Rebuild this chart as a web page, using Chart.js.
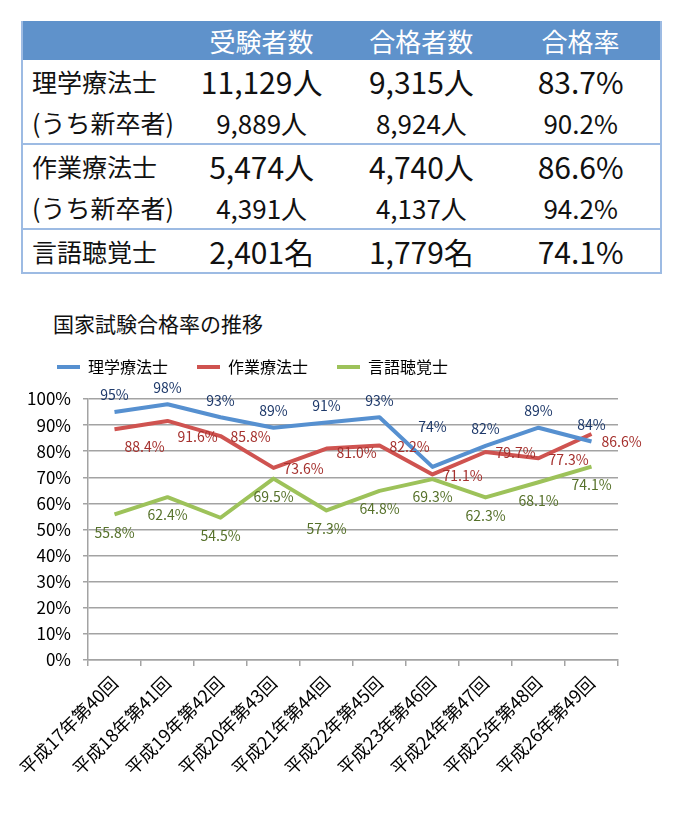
<!DOCTYPE html>
<html lang="ja">
<head>
<meta charset="utf-8">
<script src="https://cdn.jsdelivr.net/npm/chart.js@4.4.1/dist/chart.umd.min.js"></script>
<style>
  body { margin: 0; width: 680px; height: 821px; background: #fff; position: relative; overflow: hidden;
         font-family: "Noto Sans CJK JP", sans-serif; color: #111; }
  #summary { position: absolute; left: 21px; top: 21px; width: 641px; border-collapse: collapse; table-layout: fixed;
             border-left: 2px solid #9dbbe3; border-right: 2px solid #9dbbe3; border-bottom: 2px solid #9dbbe3; }
  #summary th { background: #5f92cb; color: #fff; font-weight: normal; font-size: 26px; height: 39px; padding: 0; line-height: 1; }
  #summary td { padding: 0; text-align: center; line-height: 1; }
  #summary td.name { text-align: left; padding-left: 9px; font-size: 25px; }
  #summary tr.main td { height: 42px; font-size: 30px; }
  #summary tr.sub td { height: 41px; font-size: 26px; }
  #summary tr.main td.name, #summary tr.sub td.name { font-size: 25px; }
  #summary tr.group td { border-top: 2px solid #9dbbe3; }
  #title { position: absolute; left: 53px; top: 309px; font-size: 21px; line-height: 28px; }
  #trend { position: absolute; left: 0; top: 330px; }
</style>
</head>
<body>
<table id="summary"></table>
<div id="title">国家試験合格率の推移</div>
<canvas id="trend" width="680" height="491"></canvas>
<script>
// 合格者数の表
var tableHead = ['', '受験者数', '合格者数', '合格率'];
var rowNames = ['理学療法士', '(うち新卒者)', '作業療法士', '(うち新卒者)', '言語聴覚士'];
var examinees = ['11,129人', '9,889人', '5,474人', '4,391人', '2,401名'];
var passers = ['9,315人', '8,924人', '4,740人', '4,137人', '1,779名'];
var passRates = ['83.7%', '90.2%', '86.6%', '94.2%', '74.1%'];

// 推移グラフ
var rounds = ['平成17年第40回', '平成18年第41回', '平成19年第42回', '平成20年第43回', '平成21年第44回',
              '平成22年第45回', '平成23年第46回', '平成24年第47回', '平成25年第48回', '平成26年第49回'];
var seriesNames = ['理学療法士', '作業療法士', '言語聴覚士'];
var ptRates = [95, 98, 93, 89, 91, 93, 74, 82, 89, 83.7];
var otRates = [88.4, 91.6, 85.8, 73.6, 81.0, 82.2, 71.1, 79.7, 77.3, 86.6];
var stRates = [55.8, 62.4, 54.5, 69.5, 57.3, 64.8, 69.3, 62.3, 68.1, 74.1];

var table = document.getElementById('summary');
var head = '<tr>' + tableHead.map(function (h) { return '<th>' + h + '</th>'; }).join('') + '</tr>';
var body = rowNames.map(function (name, i) {
  var cls = (i % 2 === 0 ? 'main' : 'sub') + (i === 2 || i === 4 ? ' group' : '');
  return '<tr class="' + cls + '"><td class="name">' + name + '</td><td>' + examinees[i] +
         '</td><td>' + passers[i] + '</td><td>' + passRates[i] + '</td></tr>';
}).join('');
table.innerHTML = head + body;

Chart.defaults.font.family = '"Noto Sans CJK JP", sans-serif';
Chart.defaults.color = '#000';

var lineColors = ['#5690d0', '#cf5350', '#9dc25a'];

// data label look per series (Excel style)
var labelStyle = [
  { color: '#1f3a6b', align: 'center', dx: 0, dy: -17, digits: 0, shift: { 6: [0, -23] } },
  { color: '#a5312e', align: 'left', dx: 10, dy: 1, digits: 1, shift: { 0: [0, 16], 1: [0, 15], 4: [0, 3], 9: [0, 7] } },
  { color: '#56712a', align: 'center', dx: 0, dy: 18, digits: 1, shift: {} }
];

var pointLabels = {
  id: 'pointLabels',
  afterDatasetsDraw: function (chart) {
    var ctx = chart.ctx;
    chart.data.datasets.forEach(function (ds, i) {
      var st = labelStyle[i];
      chart.getDatasetMeta(i).data.forEach(function (pt, j) {
        var s = st.shift[j] || [0, 0];
        ctx.save();
        ctx.font = '14px "Noto Sans CJK JP"';
        ctx.fillStyle = st.color;
        ctx.textAlign = st.align;
        ctx.textBaseline = 'middle';
        ctx.fillText(ds.data[j].toFixed(st.digits) + '%', pt.x + st.dx + s[0], pt.y + st.dy + s[1]);
        ctx.restore();
      });
    });
  }
};

var trend = document.getElementById('trend').getContext('2d');
var chart = new Chart(trend, {
  type: 'line',
  data: {
    labels: rounds,
    datasets: [ptRates, otRates, stRates].map(function (vals, i) {
      return {
        label: seriesNames[i],
        data: vals,
        borderColor: lineColors[i],
        backgroundColor: lineColors[i],
        borderWidth: 4,
        borderJoinStyle: 'round',
        pointRadius: 0,
        tension: 0,
        fill: false
      };
    })
  },
  options: {
    responsive: false,
    animation: false,
    devicePixelRatio: 1,
    layout: { padding: { left: 28, right: 62, top: 0, bottom: 0 } },
    plugins: {
      legend: {
        align: 'start',
        labels: {
          boxWidth: 23,
          boxHeight: 4,
          padding: 29,
          font: { size: 16 },
          generateLabels: function (c) {
            return Chart.defaults.plugins.legend.labels.generateLabels(c).map(function (item) {
              item.lineWidth = 0;
              return item;
            });
          }
        }
      },
      // empty spacer between legend and plot
      subtitle: {
        display: true,
        text: ' ',
        weight: 500,
        font: { size: 12, lineHeight: 1 },
        padding: { top: 2, bottom: 0 }
      },
      tooltip: { enabled: false }
    },
    scales: {
      x: {
        offset: true,
        grid: { offset: true, drawOnChartArea: false, tickLength: 6, color: '#a3a3a3', lineWidth: 1.5 },
        border: { color: '#a3a3a3', width: 1.5 },
        ticks: { minRotation: 45, maxRotation: 45, padding: 6, font: { size: 18 } },
        afterFit: function (s) { s.height = 161; }
      },
      y: {
        min: 0,
        max: 100,
        grid: { color: '#a3a3a3', lineWidth: 1.5, tickLength: 5 },
        border: { color: '#a3a3a3', width: 1.5 },
        ticks: { stepSize: 10, padding: 12, font: { size: 17 }, callback: function (v) { return v + '%'; } },
        afterFit: function (s) { s.width = 60; }
      }
    }
  },
  plugins: [pointLabels]
});
</script>
</body>
</html>
